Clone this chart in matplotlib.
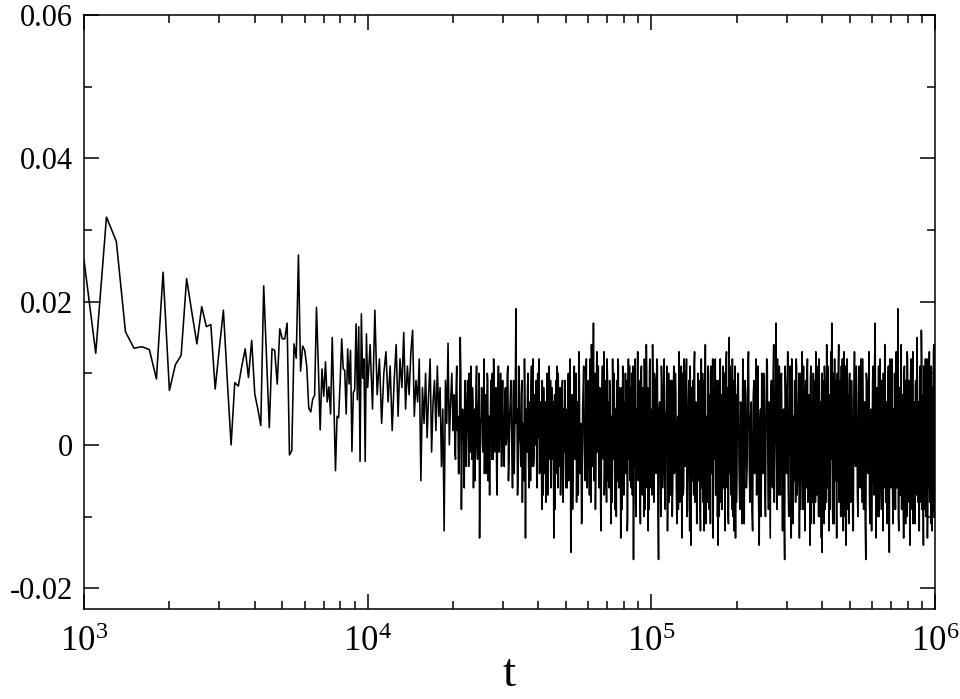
import numpy as np
import matplotlib
matplotlib.use("Agg")
import matplotlib.pyplot as plt
from matplotlib.ticker import FixedLocator, FixedFormatter, LogLocator, NullFormatter

plt.rcParams['font.family'] = ['Liberation Serif', 'DejaVu Serif']
plt.rcParams['mathtext.fontset'] = 'custom'
plt.rcParams['mathtext.rm'] = 'Liberation Serif'
plt.rcParams['mathtext.it'] = 'Liberation Serif:italic'

# ---- data (values in units of 1e-3) ----
# segment A: t = 1000 .. 9900, step 100
tA = np.arange(1000, 9901, 100)
yA = [25.8, 12.8, 31.8, 28.4, 15.8, 13.5, 13.7, 13.3, 9.2, 24.1,
      7.6, 11.2, 12.5, 23.2, 18.5, 14.1, 19.3, 16.5, 16.8, 7.8,
      13.5, 18.8, 9.0, 0.0, 8.7, 8.2, 11.0, 13.4, 9.4, 14.6,
      7.1, 5.0, 2.7, 22.2, 12.0, 2.4, 13.4, 13.2, 8.5, 16.2,
      14.8, 14.8, 17.0, -1.4, -0.8, 14.1, 12.1, 26.5, 10.3, 13.8,
      13.2, 10.9, 5.1, 4.6, 6.4, 6.9, 19.2, 11.0, 2.1, 10.6,
      6.8, 11.6, 6.0, 8.1, 4.3, 15.0, 6.0, -3.6, 4.0, 3.8,
      9.0, 14.8, 10.6, 10.4, 4.3, 13.4, 8.5, 13.2, -0.9, 7.3,
      7.7, 16.9, 6.3, 16.5, -2.3, 18.3, 9.3, 12.0, -2.3, 15.5]

# segment B: t = 10000 .. 29800, step 200
tB = np.arange(10000, 29801, 200)
yB = [8, 14, 5, 18.8, 7, 12, 3, 10, 13, 6,
      11, 2, 9, 14, 4, 12, 8, 15.7, 5, 11,
      7, 13, 16, 4, 9, 6, 12, -5, 8, 3,
      10, 1, 7, 12, -1, 6, 9, 2, 11, 4,
      8, -3, 5, -12, 9, 3, 14.2, 0, 6, 10,
      2, 7, -2, 11, 4, -4, 15, -9, 5, 1,
      9, -3, 6, 3, 10, -1, 4, 8, -6, 5,
      2, 11, -2, 6, -13, 3, 8, 0, 5, -4,
      7, 1, 10, -5, 4, 2, 9, -2, 6, 12,
      -1, 5, 3, -7, 8, 0, 4, 10, -3, 6]

# segment B2: t = 20100 .. 29900, step 200
tB2 = np.arange(20100, 29901, 200)
yB2 = [5, -1, 8, 2, -4, 6, 10, 0, 3, -6,
       7, 1, 9, -3, 4, 11, -2, 6, 2, -5,
       8, 0, 5, 10, -3, 4, 7, -1, 12, 2,
       -4, 6, 9, 1, -7, 5, 3, 10, -2, 7,
       0, 8, -5, 4, 11, -1, 6, 2, -3, 9]

# segment C1: t = 30000 .. 49800, step 300
tC1 = np.arange(30000, 49801, 300)
yC1 = [4, -3, 8, 1, 11, -2, 6, 3, -6, 9,
       2, 19, 5, -4, 10, 0, 7, -8, 3, 12,
       -13, 4, 8, -2, 6, -5, 11, 1, -3, 7,
       0, 9, -6, 3, 12, -1, 5, -9, 2, 8,
       -4, 6, 1, 10, -7, 3, -2, 9, -5, 4,
       0, -13, 7, 2, -3, 11, -6, 5, -1, 8,
       -4, 3, 9, -8, 1, 6, -2]

# segment C1b: t = 30150 .. 49950, step 300
tC1b = np.arange(30150, 49951, 300)
yC1b = [-2, 7, 0, 10, -5, 4, 9, -1, 6, -4,
        8, 3, -7, 11, 1, -3, 9, 2, -5, 6,
        5, -1, 10, -6, 3, 8, -3, 12, -2, 4,
        7, -5, 10, 1, -4, 6, 0, 9, -7, 3,
        5, -8, 2, 7, -3, 11, 0, -6, 8, -2,
        6, 1, -9, 9, -4, 4, 10, -3, 6, -7,
        2, 8, -5, 5, -1, 9, -6]

# segment C2: t = 50000 .. 99500, step 500
tC2 = np.arange(50000, 99501, 500)
yC2 = [5, -6, 10, 2, -15, 7, -3, 11, 0, -8,
       6, 13, -4, 3, -10, 8, 1, -5, 12, -2,
       9, -7, 4, 14, -3, 17, 2, -9, 7, -1,
       11, -6, 5, -12, 8, 0, 13, -4, 3, -8,
       10, 1, -6, 7, -11, 4, 12, -2, 6, -9,
       2, 9, -5, 11, -1, 5, -13, 8, 0, 7,
       -7, 3, 10, -4, 6, -10, 12, 1, -3, 8,
       -6, 4, 11, -16, 2, 9, -8, 5, -2, 13,
       -5, 7, 0, -11, 10, 3, -7, 6, -1, 12,
       -9, 4, 14, -3, 8, -12, 2, 10, -6, 5]

# segment C2b: t = 50250 .. 99750, step 500
tC2b = np.arange(50250, 99751, 500)
yC2b = [-3, 8, -5, 12, 1, -9, 6, -2, 10, 3,
        -7, 9, 0, -11, 5, 11, -3, 7, -6, 4,
        -1, 12, -8, 6, 2, -5, 10, -3, 13, 0,
        -4, 8, -9, 3, 11, -2, -7, 9, 1, 12,
        -5, 6, 9, -3, 2, -8, 7, 10, -4, 5,
        -10, 3, 12, -6, 8, -2, 4, -9, 11, -1,
        6, -4, 1, 9, -12, 7, -2, 11, -5, 3,
        10, -7, 5, 2, -3, 12, -10, 0, 7, -4,
        9, -2, -8, 4, 11, -5, 8, -1, -10, 6,
        3, -6, 10, 1, -4, 7, -9, 12, -3, 0]

# segment D1: t = 100000 .. 199000, step 1000
tD1 = np.arange(100000, 199001, 1000)
yD1 = [3, 14, -8, 9, -4, 11, -16, 6, -10, 8,
       -2, 12, -9, 5, -12, 10, 1, -7, 9, -5,
       11, -3, 7, -11, 4, 13, -8, 2, -13, 10,
       -6, 8, -1, 12, -9, 6, -4, 11, -14, 3,
       9, -7, 13, -2, 5, -10, 10, -5, 7, -12,
       12, 0, -8, 9, -3, 14, -11, 4, -6, 10,
       -9, 6, 11, -4, 2, -13, 8, -1, 12, -7,
       5, -10, -14, 9, -3, 12, -8, 7, -5, 11,
       -2, 10, -12, 4, 13, -6, 8, -11, 15, -4,
       9, -7, 3, 12, -10, 6, -2, 11, -13, 7]

# segment D1b: t = 100500 .. 199500, step 1000
tD1b = np.arange(100500, 199501, 1000)
yD1b = [-7, 6, 10, -3, 12, -9, 5, -1, 11, -6,
        8, -5, 4, 11, -2, -8, 9, 3, -10, 7,
        -4, 10, -6, 3, -9, 8, 0, 11, 6, -7,
        12, -3, 7, -10, 2, 9, -12, 5, 8, -5,
        -3, 11, -8, 6, -11, 1, 4, 9, -9, 3,
        -6, 10, 5, -12, 8, -2, 3, -8, 11, -1,
        7, -11, -3, 9, 12, -5, -2, 10, -7, 4,
        9, -4, 6, -10, 11, -1, 3, -9, 5, -6,
        10, -8, 2, 12, -4, 7, -10, 3, -2, 11,
        -5, 8, -9, 4, 9, -12, 7, -3, 2, -8]

# segment D2: t = 200000 .. 497500, step 2500
tD2 = np.arange(200000, 497501, 2500)
yD2 = [-5, 10, -9, 4, 12, -11, 7, -3, 13, -8,
       6, -12, 9, 1, -7, 11, -14, 5, 10, -4,
       8, -10, 12, -2, 6, -13, 9, -6, 14, -1,
       17, -9, 3, 11, -7, 10, -12, 5, -16, 8,
       -4, 13, -10, 7, -1, 12, -11, 4, 9, -8,
       11, -5, 6, -13, 10, -2, 13, -9, 3, -12,
       9, -6, 12, -3, 7, -14, 11, 0, -8, 10,
       -11, 5, 13, -7, 8, -4, 12, -10, 6, -13,
       -15, 9, -2, 11, -9, 4, 14, -6, 10, -12,
       7, -3, 13, 17, -8, 5, -11, 12, -5, 9,
       -13, 10, -1, 14, -7, 6, -10, 11, -4, 8,
       -12, 13, -6, 9, -14, 4, 12, -9, 7, -3]

# segment D2b: t = 201250 .. 498750, step 2500
tD2b = np.arange(201250, 498751, 2500)
yD2b = [8, -3, 6, -11, 2, 9, -6, 11, -2, 4,
        -9, 7, -4, 12, 5, -8, 3, -10, 1, 10,
        -6, 4, 11, -9, -3, 7, -5, 10, -8, 5,
        2, 12, -7, -4, 9, -1, 4, -10, 11, -3,
        7, -6, 1, 11, -13, 8, 3, -5, -2, 12,
        -7, 4, 10, -1, -9, 6, -4, 11, 8, -6,
        -3, 10, -8, 5, 1, 9, -11, 6, 3, -4,
        9, -8, 4, 11, -2, -10, 7, 2, -5, 10,
        6, -3, -11, 8, 3, -8, 5, 11, -4, 2,
        -9, 12, -2, 6, -11, 10, -4, 1, 8, -6,
        4, -5, 11, -8, 3, 9, -2, -7, 12, -1,
        6, -10, 2, 11, -4, -8, 7, 3, -11, 9]

# segment D3: t = 500000 .. 1000000, step 5000
tD3 = np.arange(500000, 1000001, 5000)
yD3 = [10, -8, 4, -12, 13, -3, 7, -10, 11, -6,
       2, 12, -9, 6, -16, 9, -4, 13, -11, 5,
       -2, 11, -7, 17, -13, 8, 0, -10, 12, -5,
       9, -12, 4, 14, -8, 6, -3, 11, -15, 7,
       -6, 12, -11, 3, 10, -9, 13, -4, 19, -12,
       8, -7, 14, -2, 5, -13, 11, -6, 9, -10,
       12, -4, 7, -14, 10, 1, -9, 13, -7, 6,
       -11, 9, -3, 15, -8, 4, -12, 11, -5, 16,
       -9, 7, -14, 10, -2, 12, -10, 5, -13, 9,
       -6, 13, -8, 3, 11, -12, 8, -4, 14, -10,
       9]

# segment D3b: t = 502500 .. 997500, step 5000
tD3b = np.arange(502500, 997501, 5000)
yD3b = [-4, 9, -10, 6, -2, 11, -7, 3, -5, 12,
        -8, 5, 1, -11, 10, -3, 7, -8, 4, -12,
        9, -5, 12, -1, 6, -10, 11, -3, 5, -9,
        -2, 10, -6, 8, 3, -11, 9, -1, 12, -4,
        7, -3, 5, -9, -1, 12, -6, 9, -10, 4,
        -4, 11, -9, 7, -6, 10, 2, -11, 6, 13,
        -8, 9, 1, -6, 12, -3, 10, -11, 4, -2,
        8, -7, 11, -3, 6, -10, 9, 2, -8, 12,
        3, -6, 11, -1, -9, 7, -4, 12, -7, 5,
        10, -8, 4, -11, 7, 2, -5, 13, -9, 6]

t = np.concatenate([tA, tB, tB2, tC1, tC1b, tC2, tC2b, tD1, tD1b, tD2, tD2b, tD3, tD3b])
y = np.concatenate([yA, yB, yB2, yC1, yC1b, yC2, yC2b, yD1, yD1b, yD2, yD2b, yD3, yD3b]) * 1e-3
order = np.argsort(t, kind='stable')
t = t[order]
y = y[order]

ytick_vals = [-0.02, 0.0, 0.02, 0.04, 0.06]
ytick_labels = ["-0.02", "0", "0.02", "0.04", "0.06"]
yminor_vals = [-0.01, 0.01, 0.03, 0.05]

# ---- figure ----
fig = plt.figure(figsize=(9.6, 6.99), dpi=100)
ax = fig.add_axes([0.0875, 0.1288, 0.974 - 0.0875, 0.9785 - 0.1288])

ax.plot(t, y, color='black', lw=1.15)

ax.set_xscale('log')
ax.set_xlim(1e3, 1e6)
ax.set_ylim(-0.0229, 0.06)

ax.yaxis.set_major_locator(FixedLocator(ytick_vals))
ax.yaxis.set_major_formatter(FixedFormatter(ytick_labels))
ax.yaxis.set_minor_locator(FixedLocator(yminor_vals))
ax.xaxis.set_major_locator(LogLocator(base=10, numticks=10))
ax.xaxis.set_minor_locator(LogLocator(base=10, subs=np.arange(2, 10), numticks=20))
ax.xaxis.set_minor_formatter(NullFormatter())

ax.tick_params(which='both', direction='in', top=True, right=True, width=1.1)
ax.tick_params(which='major', length=11)
ax.tick_params(which='minor', length=5.5)
ax.tick_params(axis='y', pad=8, labelsize=22)
ax.tick_params(axis='x', pad=12, labelsize=25)
for s in ax.spines.values():
    s.set_linewidth(1.1)

ax.set_xlabel('t', fontsize=34, labelpad=-4)

fig.savefig('out.png', dpi=100)
